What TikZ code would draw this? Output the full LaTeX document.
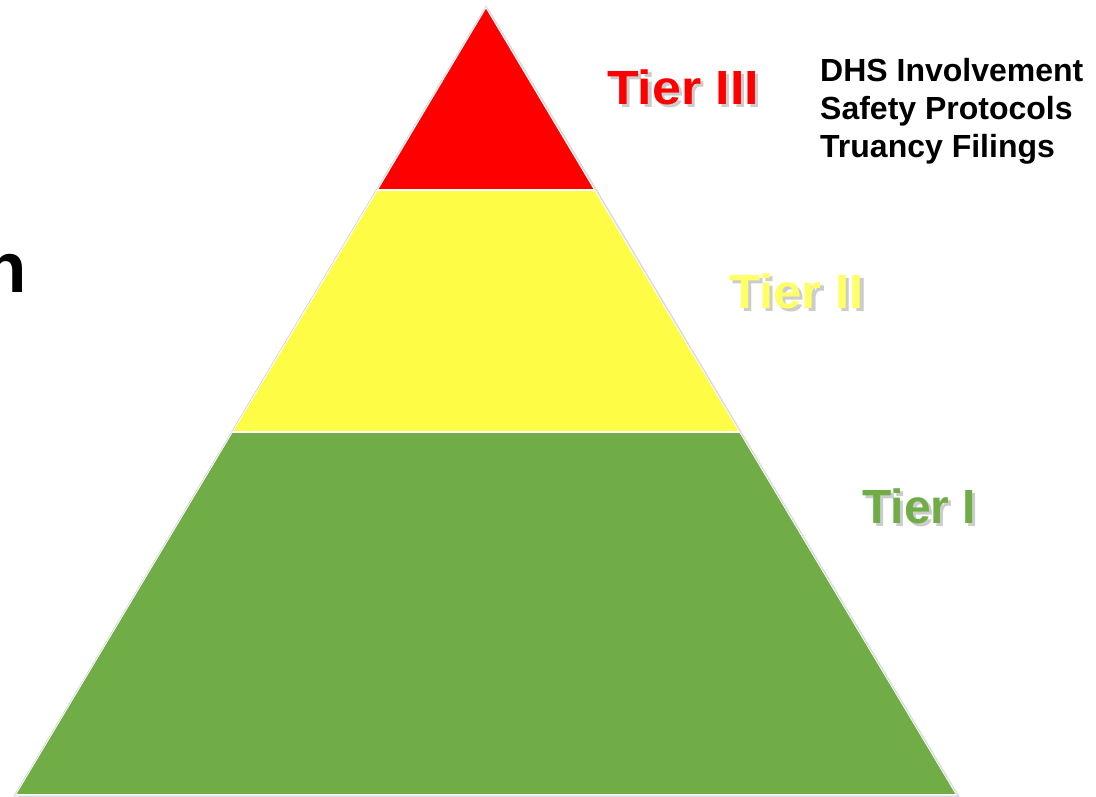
\documentclass[tikz,border=0pt]{standalone}
\usepackage{fontspec}
\setmainfont{Liberation Sans}
\definecolor{tierred}{HTML}{FF0000}
\definecolor{tieryellow}{HTML}{FFFC45}
\definecolor{tiergreen}{HTML}{70AD47}
\definecolor{labyellow}{HTML}{FFFF66}
\newcommand{\shadowed}[1]{\rlap{\hspace{3pt}\raisebox{-3pt}{\textcolor{black!20}{#1}}}#1}
\begin{document}
\begin{tikzpicture}[x=1pt,y=-1pt,
  tier/.style={line width=1.6pt, draw=white, line join=miter},
  shadowpoly/.style={fill=black, opacity=0.12},
  tierlabel/.style={anchor=base west, inner sep=0pt, font=\fontsize{48}{48}\selectfont\bfseries},
  sidetext/.style={anchor=base west, inner sep=0pt, font=\fontsize{32}{38}\selectfont\bfseries, align=left}]
\useasboundingbox (0,0) rectangle (1096,797);
\fill[white] (0,0) rectangle (1096,797);
% soft shadow of the pyramid
\fill[shadowpoly] (489,9) -- (960,797) -- (18,797) -- cycle;
% tiers
\fill[tiergreen, tier] (232,432) -- (740,432) -- (957,795) -- (15,795) -- cycle;
\fill[tieryellow, tier] (377,190) -- (595,190) -- (740,432) -- (232,432) -- cycle;
\fill[tierred, tier] (486,7) -- (595,190) -- (377,190) -- cycle;
\draw[line width=0.6pt, draw=black!18] (486,6) -- (958,796) -- (14,796) -- cycle;
% clipped word at left
\begin{scope}
\clip (0,0) rectangle (1096,797);
\node[anchor=base west, inner sep=0pt, font=\fontsize{71}{71}\selectfont\bfseries] (cut) at (-17,292) {n};
\end{scope}
% tier labels with shadows
\node[tierlabel, text=tierred, xscale=1.08] (t3) at (607,105) {\shadowed{Tier III}};
\node[tierlabel, text=labyellow, xscale=1.06] (t2) at (729,308) {\shadowed{Tier II}};
\node[tierlabel, text=tiergreen] (t1) at (862,523) {\shadowed{Tier I}};
% side text
\node[sidetext] (dhs) at (820,81.5) {DHS Involvement};
\node[sidetext] (safe) at (820,119.5) {Safety Protocols};
\node[sidetext] (tru) at (820,157.5) {Truancy Filings};
\end{tikzpicture}
\end{document}
